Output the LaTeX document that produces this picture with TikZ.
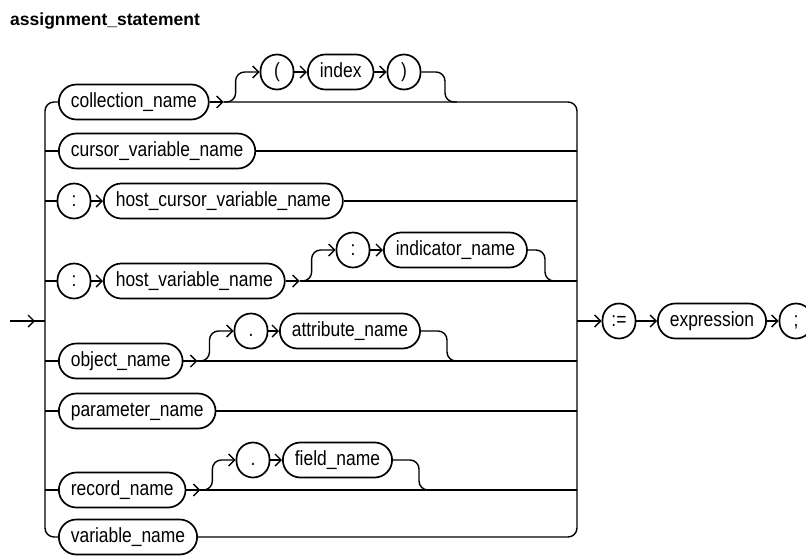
\documentclass[tikz,border=0pt]{standalone}
\usepackage{fontspec}
\setmainfont{Liberation Sans}
\newfontfamily\diagfont{Liberation Sans}[FakeStretch=0.85]
\usepackage{tikz}
\usetikzlibrary{arrows.meta,positioning}
\tikzstyle{ident}=[draw,line width=1.7pt,rounded corners=17.5pt,minimum height=35pt,inner xsep=12pt,inner ysep=0pt,
    text height=15pt,text depth=3.5pt,font=\diagfont\fontsize{20.5}{20.5}\selectfont]
\tikzstyle{symbol}=[ident,rounded corners=16.5pt,minimum width=33pt,inner xsep=4pt]
\tikzstyle{wire}=[draw,line width=1.4pt]
\tikzstyle{flow}=[draw,line width=1.4pt,-{Straight Barb[length=6pt,width=12pt]}]

\begin{document}
\begin{tikzpicture}[x=1pt,y=-1pt]
    \useasboundingbox (0,0) rectangle (806,555);
    % Title of the syntax diagram
    \node[anchor=base west,inner sep=0pt,font=\bfseries\fontsize{17.5}{17.5}\selectfont] (title) at (10,25) {assignment\_statement};

    % First the named boxes
    \foreach \pos/\name/\txt in {{(58,102)/coll/collection\_name}, {(58,151)/cursor/cursor\_variable\_name},
        {(103,201)/hostcur/host\_cursor\_variable\_name}, {(103,281)/hostvar/host\_variable\_name},
        {(58,361)/object/object\_name}, {(58,411)/param/parameter\_name}, {(58,490)/record/record\_name},
        {(58,537)/var/variable\_name}, {(307,72)/index/index}, {(383,250)/indic/indicator\_name},
        {(279,331)/attr/attribute\_name}, {(282,460)/field/field\_name}, {(657,321)/expr/expression}}
        \node[ident,anchor=west] (\name) at \pos {\txt};

    % Then the round symbols
    \foreach \pos/\name/\txt in {{(277,72)/lparen/{(}}, {(404,72)/rparen/{)}}, {(74,201)/colona/:},
        {(74,281)/colonb/:}, {(353,250)/colonc/:}, {(251,331)/dota/.}, {(253,460)/dotb/.},
        {(619,321)/assign/:=}, {(796,321)/semi/;}}
        \node[symbol] (\name) at \pos {\txt};

    % Branch points and rails
    \coordinate (start) at (10,321);
    \coordinate (entry) at (45,321);
    \coordinate (exit) at (577,321);
    \foreach \name in {coll, hostvar, object, record}
        \coordinate (\name-split) at ([xshift=14pt]\name.east);
    \coordinate (coll-join) at (457,102);
    \coordinate (hostvar-join) at (557,281);
    \coordinate (object-join) at (459,361);
    \coordinate (record-join) at (431,490);

    % Left rail
    \draw[wire] (start) -- (entry);
    \draw[flow] (start) -- ([xshift=-10pt]entry);
    \draw[wire,rounded corners=9pt] (coll) -| (entry) |- (var);
    \foreach \name in {cursor, colona, colonb, object, param, record}
        \draw[wire] (entry |- \name) -- (\name);

    % Right rail
    \draw[wire,rounded corners=9pt] (coll-split) -| (exit) |- (var);
    \foreach \from in {cursor, hostcur, hostvar-split, object-split, param, record-split}
        \draw[wire] (\from) -- (exit |- \from);

    % Arrows between elements
    \foreach \source/\dest in {coll/coll-split, hostvar/hostvar-split, object/object-split, record/record-split,
        colona/hostcur, colonb/hostvar, lparen/index, index/rparen, colonc/indic, dota/attr, dotb/field,
        exit/assign, assign/expr, expr/semi}
        \path[flow] (\source) -- (\dest);

    % Optional parts above the rows
    \foreach \split/\first/\last/\join in {coll-split/lparen/rparen/coll-join, hostvar-split/colonc/indic/hostvar-join,
        object-split/dota/attr/object-join, record-split/dotb/field/record-join}{
        \draw[flow,rounded corners=9pt] (\split) -- ++(12,0) |- (\first);
        \draw[wire,rounded corners=9pt] (\last) -| ([xshift=-12pt]\join) -- (\join);
    }
\end{tikzpicture}
\end{document}
